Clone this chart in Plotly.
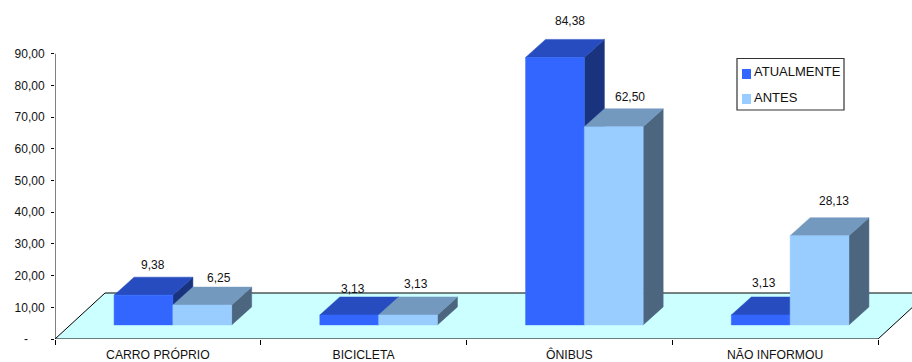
import plotly.graph_objects as go

# Survey data: share of respondents (%) by means of transport
categories = ["CARRO PRÓPRIO", "BICICLETA", "ÔNIBUS", "NÃO INFORMOU"]
atualmente = [9.38, 3.13, 84.38, 3.13]
antes = [6.25, 3.13, 62.50, 28.13]
y_ticks = [0, 10, 20, 30, 40, 50, 60, 70, 80, 90]
y_tick_labels = ["-\u00a0\u00a0\u00a0\u00a0\u00a0", "10,00", "20,00", "30,00", "40,00",
                 "50,00", "60,00", "70,00", "80,00", "90,00"]

W, H = 912, 362
ML, MT, MB = 55, 4, 23
CAT_PX = 205.75                      # width of one category
PX_PER_UNIT = 3.17                   # pixels per percentage point
FONT = "Liberation Sans, Arial, sans-serif"
TEXT = "#111111"

def ux(px):
    return px / CAT_PX

def uy(px):
    return px / PX_PER_UNIT

# Oblique projection of the floor and of the bar boxes
FLOOR_DX, FLOOR_DY = ux(50), uy(46)
BAR_X0, BAR_Y0 = ux(15), uy(14.1)
BOX_DX, BOX_DY = ux(20), uy(18)
BAR_W = ux(58.8)

FRONT = {"A": "#3366FF", "B": "#99CCFF"}
TOP = {"A": "#264CBF", "B": "#7399BF"}
SIDE = {"A": "#19337F", "B": "#4C6680"}

fig = go.Figure()

def poly(xs, ys, color, line=None, width=0):
    fig.add_trace(go.Scatter(
        x=xs + xs[:1], y=ys + ys[:1], mode="lines", fill="toself", fillcolor=color,
        line=dict(color=line or color, width=width if line else 0.5),
        hoverinfo="skip", showlegend=False,
    ))

# Floor of the chart
poly([0, 4, 4 + FLOOR_DX, FLOOR_DX], [0, 0, FLOOR_DY, FLOOR_DY], "#CCFFFF", line="#000000", width=1)

def box(x0, value, key):
    x1 = x0 + BAR_W
    y0, y1 = BAR_Y0, BAR_Y0 + value
    poly([x1, x1 + BOX_DX, x1 + BOX_DX, x1], [y0, y0 + BOX_DY, y1 + BOX_DY, y1], SIDE[key])
    poly([x0, x1, x1 + BOX_DX, x0 + BOX_DX], [y1, y1, y1 + BOX_DY, y1 + BOX_DY], TOP[key])
    poly([x0, x1, x1, x0], [y0, y0, y1, y1], FRONT[key])

# Label nudges (pixels) from the middle of each box's back top edge
nudge_a = [(-10.5, 12.5), (-16, 8), (-4.5, 18.5), (-17, 14)]
nudge_b = [(-3.5, 9.5), (-12, 13), (-3.5, 11.5), (-6, 16.5)]
annotations = []

def value_label(x0, value, nudge):
    annotations.append(dict(
        x=x0 + BAR_W / 2 + BOX_DX, y=BAR_Y0 + value + BOX_DY, xref="x", yref="y",
        text=f"{value:.2f}".replace(".", ","), showarrow=False,
        xshift=nudge[0], yshift=nudge[1], xanchor="center", yanchor="middle",
        font=dict(family=FONT, size=12, color=TEXT),
    ))

for i in range(len(categories)):
    x_a = i + 0.5 - BAR_W + BAR_X0
    x_b = i + 0.5 + BAR_X0
    box(x_a, atualmente[i], "A")
    box(x_b, antes[i], "B")
    value_label(x_a, atualmente[i], nudge_a[i])
    value_label(x_b, antes[i], nudge_b[i])

# Vertical axis line stops at the last tick
fig.add_trace(go.Scatter(x=[0, 0], y=[0, 90], mode="lines", hoverinfo="skip", showlegend=False,
                         line=dict(color="#000000", width=1), cliponaxis=False))

# Legend box, in pixel positions converted to paper fractions
PW, PH = W - ML, H - MT - MB

def px_x(px):
    return (px - ML) / PW

def px_y(py):
    return 1 - (py - MT) / PH

shapes = [dict(type="rect", xref="paper", yref="paper", x0=px_x(737), x1=px_x(844),
               y0=px_y(110), y1=px_y(58.5), line=dict(color="#333333", width=1.2),
               fillcolor="#FFFFFF")]
for name, color, cy, text_y in [("ATUALMENTE", FRONT["A"], 74, 71.5), ("ANTES", FRONT["B"], 99, 97.5)]:
    shapes.append(dict(type="rect", xref="paper", yref="paper", x0=px_x(742), x1=px_x(751),
                       y0=px_y(cy + 5), y1=px_y(cy - 5), line=dict(width=0), fillcolor=color))
    annotations.append(dict(x=px_x(751.5), y=px_y(text_y), xref="paper", yref="paper", text=name,
                            showarrow=False, xanchor="left", yanchor="middle",
                            font=dict(family=FONT, size=13, color=TEXT)))

fig.update_layout(
    width=W, height=H, margin=dict(l=ML, r=0, t=MT, b=MB, pad=0, autoexpand=False),
    paper_bgcolor="#FFFFFF", plot_bgcolor="rgba(0,0,0,0)", showlegend=False,
    shapes=shapes, annotations=annotations,
    font=dict(family=FONT, size=12, color=TEXT),
    xaxis=dict(
        automargin=False,
        range=[0, PW / CAT_PX], showgrid=False, zeroline=False, showline=False,
        tickmode="array", tickvals=[i + 0.5 for i in range(4)], ticktext=categories,
        ticks="", ticklen=0, ticklabelstandoff=7, tickfont=dict(family=FONT, size=12.2, color=TEXT),
        minor=dict(tickmode="array", tickvals=[0, 1, 2, 3, 4], ticks="outside",
                   ticklen=5, tickwidth=1, tickcolor="#000000", showgrid=False),
    ),
    yaxis=dict(
        automargin=False,
        range=[0, PH / PX_PER_UNIT], showgrid=False, zeroline=False, showline=False,
        tickmode="array", tickvals=y_ticks, ticktext=y_tick_labels,
        ticks="outside", ticklen=3, ticklabelstandoff=4, tickwidth=1, tickcolor="#000000",
        tickfont=dict(family=FONT, size=12, color=TEXT),
    ),
)

fig.write_html("out.html")
